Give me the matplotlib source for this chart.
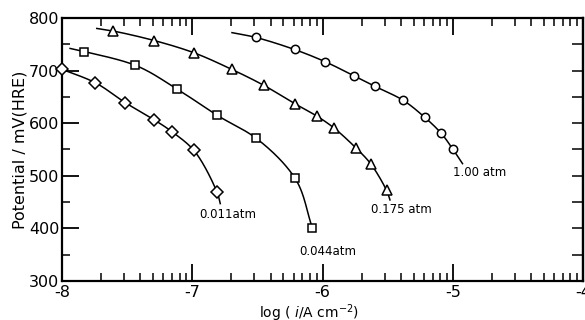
import numpy as np
import matplotlib
matplotlib.use("Agg")
import matplotlib.pyplot as plt
from matplotlib.ticker import FixedLocator

plt.rcParams['font.family'] = ['DejaVu Sans']
plt.rcParams['axes.unicode_minus'] = False

# ---- data (log i, potential mV) ----
labels = ["0.011atm", "0.044atm", "0.175 atm", "1.00 atm"]
markers = ["D", "s", "^", "o"]

x_011 = [-7.998, -7.746, -7.515, -7.29, -7.152, -6.987, -6.81]
y_011 = [702, 677, 639, 606, 583, 548, 469]
x_044 = [-7.828, -7.438, -7.118, -6.81, -6.508, -6.213, -6.077]
y_044 = [736, 710, 665, 615, 571, 496, 400]
x_175 = [-7.605, -7.292, -6.99, -6.695, -6.452, -6.213, -6.041, -5.913, -5.744, -5.631, -5.508]
y_175 = [775, 757, 734, 702, 672, 637, 613, 591, 553, 523, 472]
x_100 = [-6.513, -6.215, -5.982, -5.759, -5.598, -5.385, -5.215, -5.09, -4.998]
y_100 = [763, 740, 717, 690, 670, 644, 611, 581, 550]

# drawn curve extends a little beyond the data points
curve_start = [(-8.05, 707), (-7.938, 742), (-7.733, 780), (-6.695, 772)]
curve_end = [(-6.785, 447), None, (-5.482, 454), (-4.925, 523)]

label_pos = [(-6.73, 426), (-5.96, 356), (-5.392, 436), (-4.792, 506)]

series = [(x_011, y_011), (x_044, y_044), (x_175, y_175), (x_100, y_100)]


def centripetal_cr(px, py, n=40):
    # smooth centripetal Catmull-Rom curve through the points (scale-normalized)
    P = np.column_stack([np.asarray(px, float) / 4.0, np.asarray(py, float) / 500.0])
    P = np.vstack([2 * P[0] - P[1], P, 2 * P[-1] - P[-2]])
    out = []
    for i in range(1, len(P) - 2):
        p0, p1, p2, p3 = P[i - 1], P[i], P[i + 1], P[i + 2]
        t0 = 0.0
        t1 = t0 + np.linalg.norm(p1 - p0) ** 0.5
        t2 = t1 + np.linalg.norm(p2 - p1) ** 0.5
        t3 = t2 + np.linalg.norm(p3 - p2) ** 0.5
        t = np.linspace(t1, t2, n, endpoint=False)[:, None]
        a1 = (t1 - t) / (t1 - t0) * p0 + (t - t0) / (t1 - t0) * p1
        a2 = (t2 - t) / (t2 - t1) * p1 + (t - t1) / (t2 - t1) * p2
        a3 = (t3 - t) / (t3 - t2) * p2 + (t - t2) / (t3 - t2) * p3
        b1 = (t2 - t) / (t2 - t0) * a1 + (t - t0) / (t2 - t0) * a2
        b2 = (t3 - t) / (t3 - t1) * a2 + (t - t1) / (t3 - t1) * a3
        c = (t2 - t) / (t2 - t1) * b1 + (t - t1) / (t2 - t1) * b2
        out.append(c)
    out.append(P[-2][None, :])
    out = np.vstack(out)
    return out[:, 0] * 4.0, out[:, 1] * 500.0


fig = plt.figure(figsize=(5.85, 3.2), dpi=100)
ax = fig.add_axes([0.106, 0.122, 0.8906, 0.822])

for (xs, ys), mk, cs, ce, lab, lp in zip(series, markers, curve_start, curve_end, labels, label_pos):
    cx = [cs[0]] + list(xs) + ([ce[0]] if ce else [])
    cy = [cs[1]] + list(ys) + ([ce[1]] if ce else [])
    sx, sy = centripetal_cr(cx, cy)
    ax.plot(sx, sy, color='black', lw=1.1, zorder=2)
    ms = 6.5 if mk in ("D", "^") else 6
    ax.plot(xs, ys, linestyle='none', marker=mk, ms=ms, mfc='white', mec='black',
            mew=1.1, zorder=3, clip_on=False)
    ax.text(lp[0], lp[1], lab, fontsize=8.5, ha='center', va='center')

ax.set_xlim(-8, -4)
ax.set_ylim(300, 800)

ax.set_xticks([-8, -7, -6, -5, -4])
ax.set_xticklabels(["-8", "-7", "-6", "-5", "-4"])
minor_x = [d + np.log10(k) for d in range(-8, -4) for k in range(2, 10)]
ax.xaxis.set_minor_locator(FixedLocator(minor_x))
ax.set_yticks([300, 400, 500, 600, 700, 800])
ax.yaxis.set_minor_locator(FixedLocator([350, 450, 550, 650, 750]))

ax.tick_params(axis='both', which='major', direction='in', length=12, width=1.3,
               labelsize=11.5)
ax.tick_params(axis='x', which='major', pad=3)
ax.tick_params(axis='y', which='major', pad=2)
ax.tick_params(axis='both', which='minor', direction='in', length=6, width=1.1)
ax.tick_params(axis='x', which='both', top=True)
ax.tick_params(axis='y', which='both', right=False)

sec = ax.secondary_yaxis('right')
sec.set_yticks(np.arange(350, 800, 50))
sec.tick_params(direction='in', length=8, width=1.1, labelright=False)
sec.spines['right'].set_linewidth(1.6)

for s in ax.spines.values():
    s.set_linewidth(1.6)

ax.set_ylabel("Potential / mV(HRE)", fontsize=11.5, labelpad=1)
ax.set_xlabel("log ( $\\it{i}$/A cm$^{-2}$)", fontsize=10, labelpad=0)
ax.xaxis.set_label_coords(0.474, -0.08)
ax.xaxis.label.set_va('top')

fig.savefig("out.png", dpi=100)
